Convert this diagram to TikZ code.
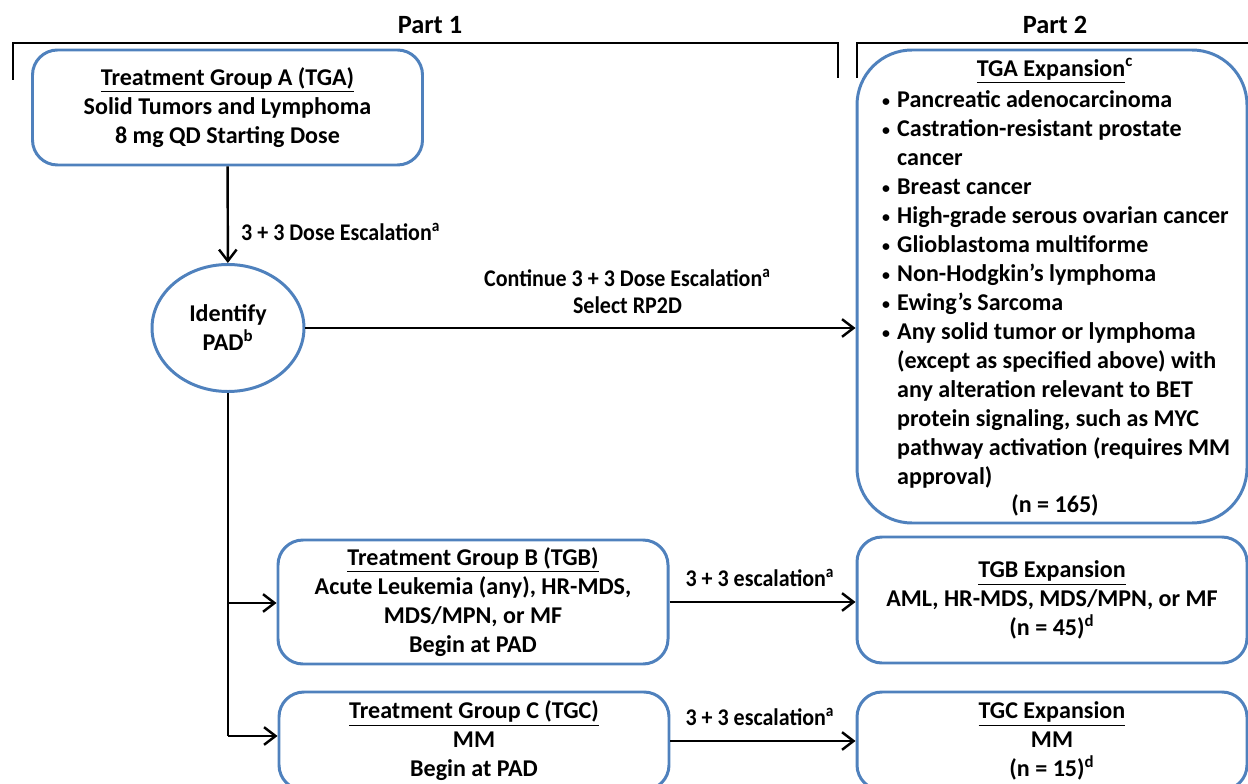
\documentclass[tikz,border=0pt]{standalone}
\usepackage{fontspec}
\setmainfont{Carlito}
\newfontfamily\kapea{Carlito}[FakeStretch=0.92]
\usetikzlibrary{positioning,arrows.meta,shapes.geometric}
\definecolor{reuna}{RGB}{79,129,189}
\newcommand{\piste}{\makebox[0.3cm][l]{\raisebox{0.6pt}{\fontsize{9}{9}\selectfont\textbullet}}}

\begin{document}
\begin{tikzpicture} [>={Straight Barb[length=6.5pt,width=10pt]}, line width=1.4pt,
                    font=\bfseries\fontsize{13.7}{16.5}\selectfont,
                    ryhma/.style={draw=reuna,line width=1.7pt,rounded corners=0.5cm,align=center,minimum width=7.8cm},
                    pallo/.style={ellipse,draw=reuna,line width=1.7pt,align=center,minimum width=3.04cm,minimum height=2.54cm},
                    selite/.style={font=\kapea\bfseries\fontsize{13.6}{15.5}\selectfont,align=center,inner sep=0pt},
                    osa/.style={font=\bfseries\fontsize{15}{18}\selectfont}]
\useasboundingbox (0,0) rectangle (24.96,-15.68);

% Part headers
\node[osa] (o1) at (8.6,-0.5) {Part 1};
\node[osa] (o2) at (21.1,-0.5) {Part 2};
\draw[line width=1.2pt] (0.26,-1.6) |- (16.76,-0.86) -- (16.76,-1.56);
\draw[line width=1.2pt] (17.14,-1.56) |- (25.2,-0.86);

% Part 1
\node[ryhma,minimum height=2.3cm] (A) at (4.55,-2.15)
  {\underline{Treatment Group A (TGA)}\\Solid Tumors and Lymphoma\\8 mg QD Starting Dose};
\node[pallo] (P) at (4.56,-6.56) {Identify\\PAD\textsuperscript{b}};
\node[ryhma,minimum height=2.48cm] (B) at (9.46,-12.04)
  {\underline{Treatment Group B (TGB)}\\Acute Leukemia (any), HR-MDS,\\MDS/MPN, or MF\\Begin at PAD};
\node[ryhma,minimum height=1.96cm] (C) at (9.48,-14.82)
  {\underline{Treatment Group C (TGC)}\\MM\\Begin at PAD};

% Part 2
\node[ryhma,rounded corners=1.1cm,minimum height=9.46cm] (EA) at (21.04,-5.73) {};
\node (EAo) at (21.1,-1.42) {\underline{TGA Expansion}\textsuperscript{c}};
\node[align=left,inner sep=0pt,anchor=north west] (EAl) at (17.62,-1.78)
  {\piste Pancreatic adenocarcinoma\\
   \piste Castration-resistant prostate\\
   \hspace*{0.3cm}cancer\\
   \piste Breast cancer\\
   \piste High-grade serous ovarian cancer\\
   \piste Glioblastoma multiforme\\
   \piste Non-Hodgkin’s lymphoma\\
   \piste Ewing’s Sarcoma\\
   \piste Any solid tumor or lymphoma\\
   \hspace*{0.3cm}(except as specified above) with\\
   \hspace*{0.3cm}any alteration relevant to BET\\
   \hspace*{0.3cm}protein signaling, such as MYC\\
   \hspace*{0.3cm}pathway activation (requires MM\\
   \hspace*{0.3cm}approval)};
\node (EAn) at (21.1,-10.1) {(n = 165)};
\node[ryhma,minimum height=2.52cm] (EB) at (21.04,-12.0)
  {\underline{TGB Expansion}\\AML, HR-MDS, MDS/MPN, or MF\\(n = 45)\textsuperscript{d}};
\node[ryhma,minimum height=1.96cm] (EC) at (21.04,-14.82)
  {\underline{TGC Expansion}\\MM\\(n = 15)\textsuperscript{d}};

% labels
\node[selite,anchor=west] (l1) at (4.8,-4.64) {3 + 3 Dose Escalation\textsuperscript{a}};
\node[selite] (l2) at (12.55,-5.83) {Continue 3 + 3 Dose Escalation\textsuperscript{a}\\Select RP2D};
\node[selite] (l3) at (15.2,-11.56) {3 + 3 escalation\textsuperscript{a}};
\node[selite] (l4) at (15.2,-14.34) {3 + 3 escalation\textsuperscript{a}};

% connectors
\coordinate (h1) at (4.56,-12.06);
\coordinate (h2) at (4.56,-14.72);
\draw[->] (A) -- (P);
\draw[->] (P.east) -- (P.east -| EA.west);
\draw (P) -- (h2);
\draw[->] (h1) -- (h1 -| B.west);
\draw[->] (h2) -- (h2 -| C.west);
\draw[->] (B.east) -- (B.east -| EB.west);
\draw[->] (C.east) -- (C.east -| EC.west);
\end{tikzpicture}
\end{document}
